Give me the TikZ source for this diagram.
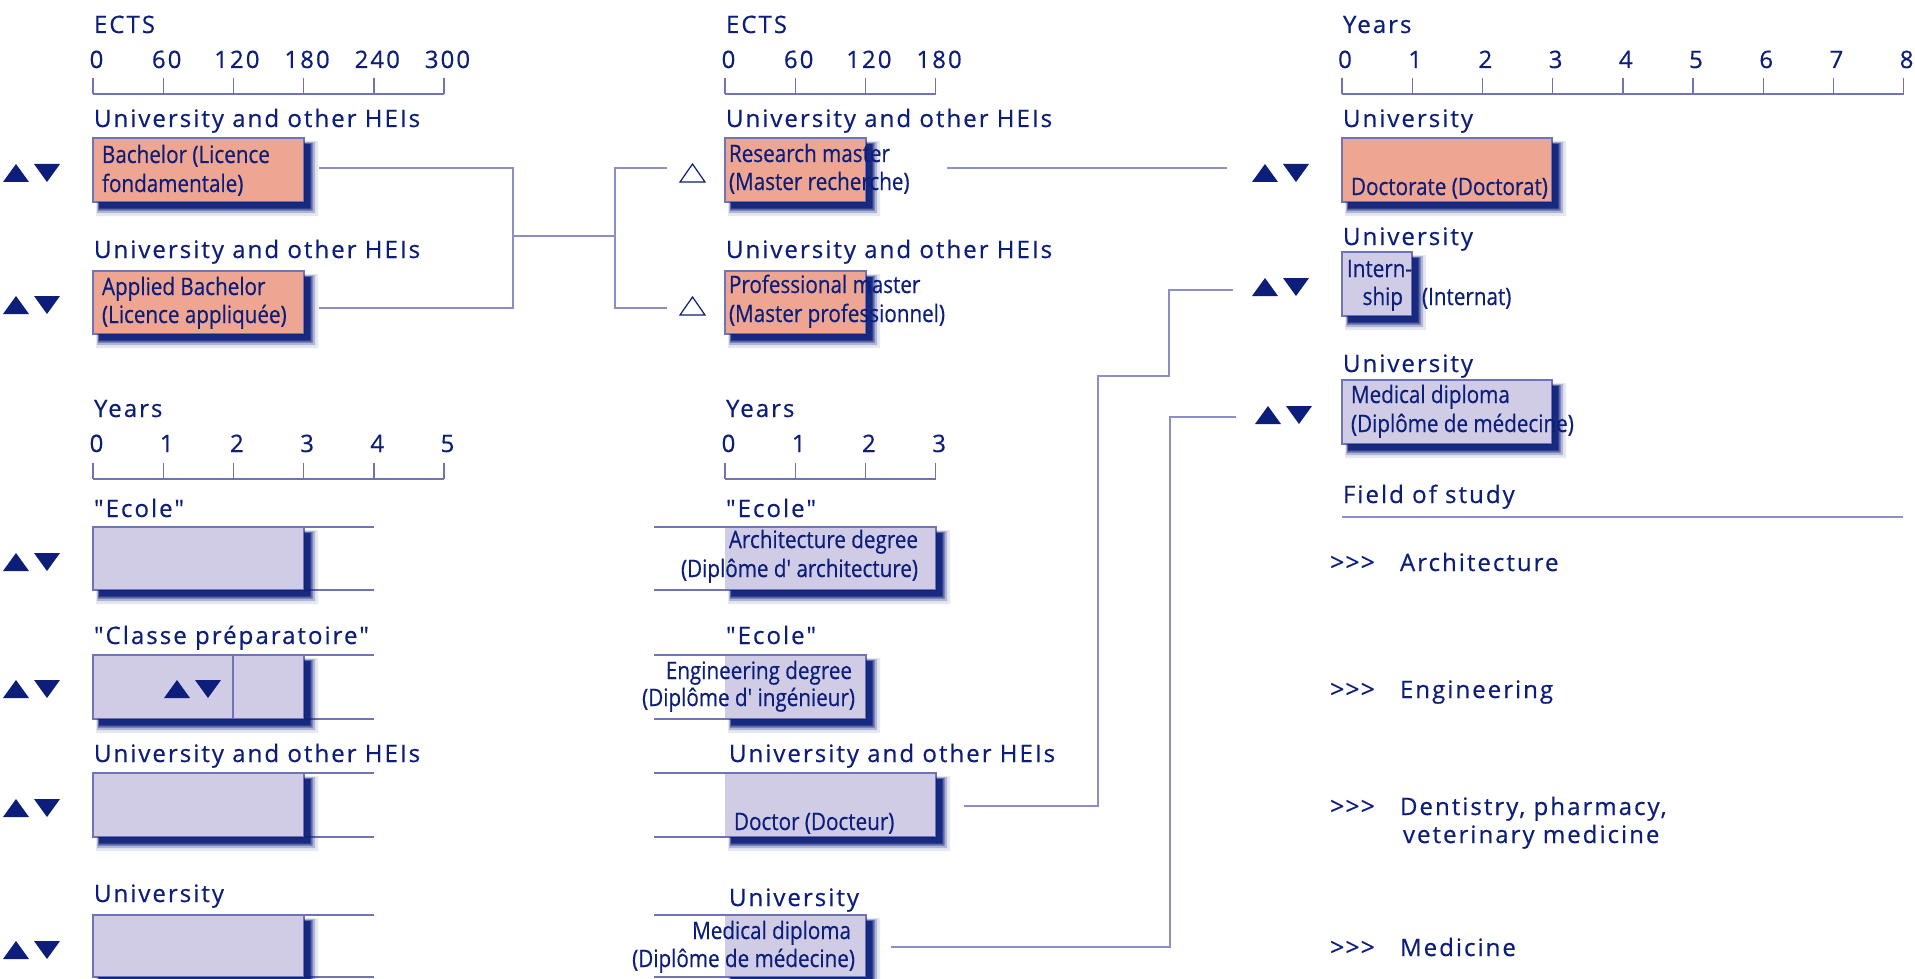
\documentclass[tikz,border=0pt]{standalone}
\usepackage{fontspec}
\setmainfont{Open Sans}
\newfontfamily\labfont[LetterSpace=8.5,FakeBold=0.5]{Open Sans}
\newfontfamily\gtfont[FakeBold=0.3]{Open Sans}
\newfontfamily\boxfont[FakeStretch=0.86,FakeBold=0.5]{Open Sans}
\definecolor{navy}{RGB}{12,30,122}
\definecolor{salmon}{RGB}{238,165,145}
\definecolor{lav}{RGB}{208,204,230}
\definecolor{linec}{RGB}{140,142,202}
\definecolor{boxl}{RGB}{112,115,180}
\newcommand\labsz{\fontsize{24}{28}\selectfont}
\newcommand\boxsz{\fontsize{24}{28}\selectfont}
\newcommand\mybox[6]{\node[#6, anchor=north west, minimum width={#4-#2}, minimum height={#5-#3}] (#1) at (#2,#3) {};}
\newcommand\shadowL[4]{%
  \fill[navy,opacity=.1] (#3,#2+3) -- (#3+14,#2+3) -- (#3+14,#4+14) -- (#1+3,#4+14) -- (#1+3,#4) -- (#3,#4) -- cycle;
  \fill[navy,opacity=.25] (#3,#2+4) -- (#3+11,#2+4) -- (#3+11,#4+11) -- (#1+4,#4+11) -- (#1+4,#4) -- (#3,#4) -- cycle;
  \fill[navy,opacity=.5] (#3,#2+5) -- (#3+8.5,#2+5) -- (#3+8.5,#4+8.5) -- (#1+5,#4+8.5) -- (#1+5,#4) -- (#3,#4) -- cycle;
  \fill[navy,opacity=.85] (#3,#2+6) -- (#3+6.5,#2+6) -- (#3+6.5,#4+6.5) -- (#1+6,#4+6.5) -- (#1+6,#4) -- (#3,#4) -- cycle;}
\tikzset{
  lab/.style={font=\labfont\labsz, text=navy, inner sep=0pt, outer sep=0pt, anchor=base west},
  num/.style={font=\labfont\labsz, text=navy, inner sep=0pt, outer sep=0pt, anchor=base},
  gt/.style={font=\gtfont\fontsize{25}{28}\selectfont, text=navy, inner sep=0pt, outer sep=0pt, anchor=base west},
  bt/.style={font=\boxfont\boxsz, text=navy, inner sep=0pt, outer sep=0pt, anchor=base west},
  btr/.style={bt, anchor=base east},
  sal/.style={fill=salmon, draw=boxl, line width=1.2pt, inner sep=0pt, outer sep=0pt},
  lavb/.style={fill=lav, draw=boxl, line width=1.2pt, inner sep=0pt, outer sep=0pt},
  lavf/.style={fill=lav, inner sep=0pt, outer sep=0pt},
  bline/.style={draw=boxl, line width=1.2pt},
  axisc/.style={draw=boxl, line width=1.4pt},
  conn/.style={draw=linec, line width=1.8pt},
  updn/.pic={\fill[navy] (0,18)--(26,18)--(13,0)--cycle; \fill[navy] (31,0)--(57,0)--(44,18)--cycle;},
  opentri/.pic={\draw[navy, line width=1.2pt, line join=miter] (0,18)--(25,18)--(12.5,0)--cycle;}
}
\begin{document}
\begin{tikzpicture}[x=1pt,y=-1pt]
\useasboundingbox (0,0) rectangle (1915,979);
\fill[white] (0,0) rectangle (1915,979);

% ---------- axes ----------
\node[lab] (h1) at (94,33) {ECTS};
\foreach \i/\t in {0/0,1/60,2/120,3/180,4/240,5/300}{
  \draw[axisc] ({93+70.2*\i},78) -- ({93+70.2*\i},94);
  \node[num] (ea\i) at ({96.5+70.2*\i},68) {\t};}
\draw[axisc] (93,94) -- (444,94);

\node[lab] (h2) at (726,33) {ECTS};
\foreach \i/\t in {0/0,1/60,2/120,3/180}{
  \draw[axisc] ({725+70.2*\i},78) -- ({725+70.2*\i},94);
  \node[num] (eb\i) at ({728.5+70.2*\i},68) {\t};}
\draw[axisc] (725,94) -- (936,94);

\node[lab] (h3) at (1343,33) {Years};
\foreach \i in {0,...,8}{
  \draw[axisc] ({1342+70.2*\i},78) -- ({1342+70.2*\i},94);
  \node[num] (ec\i) at ({1345+70.2*\i},68) {\i};}
\draw[axisc] (1342,94) -- (1904,94);

\node[lab] (h4) at (94,417) {Years};
\foreach \i in {0,...,5}{
  \draw[axisc] ({93+70.2*\i},463) -- ({93+70.2*\i},479);
  \node[num] (ed\i) at ({96.5+70.2*\i},452) {\i};}
\draw[axisc] (93,479) -- (444,479);

\node[lab] (h5) at (726,417) {Years};
\foreach \i in {0,...,3}{
  \draw[axisc] ({725+70.2*\i},463) -- ({725+70.2*\i},479);
  \node[num] (ee\i) at ({728.5+70.2*\i},452) {\i};}
\draw[axisc] (725,479) -- (936,479);

% ---------- left column ----------
\node[lab] (l1) at (94,127) {University and other HEIs};
\mybox{bach}{93}{138}{304}{202}{sal}
\node[bt] (bach1) at (102,163) {Bachelor (Licence};
\node[bt] (bach2) at (102,192) {fondamentale)};
\shadowL{93}{138}{304}{202}
\pic at (3,164) {updn};

\node[lab] (l2) at (94,258) {University and other HEIs};
\mybox{appl}{93}{271}{304}{334}{sal}
\node[bt] (appl1) at (102,295) {Applied Bachelor};
\node[bt] (appl2) at (102,323) {(Licence appliquée)};
\shadowL{93}{271}{304}{334}
\pic at (3,296) {updn};

\node[lab] (l3) at (94,517) {"Ecole"};
\mybox{ecole}{93}{527}{304}{590}{lavb}
\draw[bline] (ecole.north east) -- (374,527);
\draw[bline] (ecole.south east) -- (374,590);
\shadowL{93}{527}{304}{590}
\pic at (3,553) {updn};

\node[lab] (l4) at (94,644) {"Classe préparatoire"};
\mybox{classe}{93}{655}{304}{719}{lavb}
\draw[bline] (233,655) -- (233,719);
\draw[bline] (classe.north east) -- (374,655);
\draw[bline] (classe.south east) -- (374,719);
\shadowL{93}{655}{304}{719}
\pic at (3,680) {updn};
\pic at (164,680) {updn};

\node[lab] (l5) at (94,762) {University and other HEIs};
\mybox{uhei}{93}{773}{304}{837}{lavb}
\draw[bline] (uhei.north east) -- (374,773);
\draw[bline] (uhei.south east) -- (374,837);
\shadowL{93}{773}{304}{837}
\pic at (3,799) {updn};

\node[lab] (l6) at (94,902) {University};
\mybox{univ}{93}{915}{304}{977}{lavb}
\draw[bline] (univ.north east) -- (374,915);
\draw[bline] (univ.south east) -- (374,977);
\shadowL{93}{915}{304}{977}
\pic at (3,941) {updn};

% ---------- middle column ----------
\node[lab] (m1) at (726,127) {University and other HEIs};
\mybox{res}{725}{138}{866}{202}{sal}
\node[bt] (res1) at (729,162) {Research master};
\node[bt] (res2) at (729,190) {(Master recherche)};
\shadowL{725}{138}{866}{202}
\pic at (680,164) {opentri};

\node[lab] (m2) at (726,258) {University and other HEIs};
\mybox{pro}{725}{271}{866}{334}{sal}
\node[bt] (pro1) at (729,293) {Professional master};
\node[bt] (pro2) at (729,322) {(Master professionnel)};
\shadowL{725}{271}{866}{334}
\pic at (680,297) {opentri};

\node[lab] (m3) at (726,517) {"Ecole"};
\mybox{arch}{725}{527}{936}{590}{lavf}
\draw[bline] (654,527) -- (arch.north east) -- (arch.south east) -- (654,590);
\node[btr] (arch1) at (918,548) {Architecture degree};
\node[btr] (arch2) at (918,577) {(Diplôme d' architecture)};
\shadowL{725}{527}{936}{590}

\node[lab] (m4) at (726,644) {"Ecole"};
\mybox{eng}{725}{655}{866}{719}{lavf}
\draw[bline] (654,655) -- (eng.north east) -- (eng.south east) -- (654,719);
\node[btr] (eng1) at (852,679) {Engineering degree};
\node[btr] (eng2) at (855,706) {(Diplôme d' ingénieur)};
\shadowL{725}{655}{866}{719}

\node[lab] (m5) at (729,762) {University and other HEIs};
\mybox{doc}{725}{773}{936}{837}{lavf}
\draw[bline] (654,773) -- (doc.north east) -- (doc.south east) -- (654,837);
\node[bt] (doc1) at (734,830) {Doctor (Docteur)};
\shadowL{725}{773}{936}{837}

\node[lab] (m6) at (729,906) {University};
\mybox{med}{725}{915}{866}{977}{lavf}
\draw[bline] (654,915) -- (med.north east) -- (med.south east) -- (654,977);
\node[btr] (med1) at (851,939) {Medical diploma};
\node[btr] (med2) at (855,967) {(Diplôme de médecine)};
\shadowL{725}{915}{866}{977}

% ---------- right column ----------
\node[lab] (r1) at (1343,127) {University};
\mybox{dr}{1342}{138}{1552}{202}{sal}
\node[bt] (dr1) at (1351,195) {Doctorate (Doctorat)};
\shadowL{1342}{138}{1552}{202}
\pic at (1252,164) {updn};

\node[lab] (r2) at (1343,245) {University};
\mybox{intern}{1342}{252}{1412}{316}{lavb}
\node[bt] (int1) at (1347,277) {Intern-};
\node[btr] (int2) at (1403,305) {ship};
\node[bt] (int3) at (1422,305) {(Internat)};
\shadowL{1342}{252}{1412}{316}
\pic at (1252,278) {updn};

\node[lab] (r3) at (1343,372) {University};
\mybox{rmed}{1342}{380}{1552}{444}{lavb}
\node[bt] (rmed1) at (1351,403) {Medical diploma};
\node[bt] (rmed2) at (1351,432) {(Diplôme de médecine)};
\shadowL{1342}{380}{1552}{444}
\pic at (1255,406) {updn};

\node[lab] (fos) at (1343,503) {Field of study};
\draw[conn] (1342,517) -- (1903,517);
\foreach \n/\yy/\t in {fa/571/Architecture, fb/698/Engineering, fc/815/{Dentistry, pharmacy,}, fd/956/Medicine}{
  \node[gt] (\n g) at (1330,\yy) {>\kern1pt>\kern1pt>};
  \node[lab] (\n) at (1400,\yy) {\t};}
\node[lab] (fc2) at (1403,843) {veterinary medicine};

% ---------- connectors ----------
\coordinate (bachR) at (319,168);
\coordinate (applR) at (319,308);
\coordinate (jL) at (513,236);
\coordinate (jR) at (615,236);
\coordinate (resL) at (667,168);
\coordinate (proL) at (667,308);
\draw[conn] (bachR) -| (jL) |- (applR);
\draw[conn] (jL) -- (jR);
\draw[conn] (resL) -| (jR) |- (proL);

\coordinate (resR) at (947,168);
\coordinate (drL) at (1227,168);
\draw[conn] (resR) -- (drL);

\coordinate (docR) at (964,806);
\coordinate (k1) at (1098,376);
\coordinate (k2) at (1169,290);
\coordinate (intL) at (1233,290);
\draw[conn] (docR) -| (k1) -| (k2) -- (intL);

\coordinate (medR) at (891,947);
\coordinate (k3) at (1170,417);
\coordinate (rmedL) at (1236,417);
\draw[conn] (medR) -| (k3) -- (rmedL);
\end{tikzpicture}
\end{document}
